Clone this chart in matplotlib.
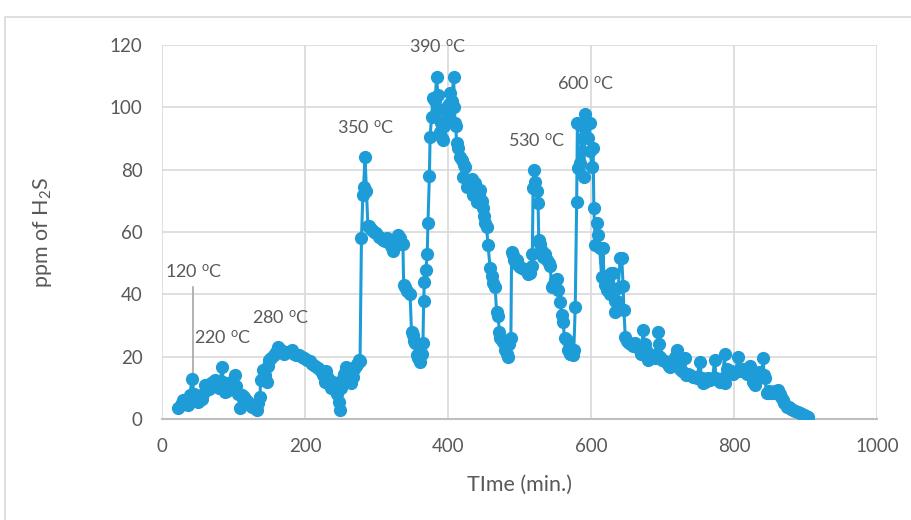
import matplotlib
matplotlib.use("Agg")
import matplotlib.pyplot as plt
from matplotlib.patches import Rectangle

plt.rcParams["font.family"] = ["Lato", "DejaVu Sans"]
plt.rcParams["mathtext.fontset"] = "custom"
plt.rcParams["mathtext.rm"] = "Lato"
plt.rcParams["mathtext.it"] = "Lato:italic"

# time (min.) and ppm of H2S
time_min = [
    23, 26, 28, 30, 33, 36, 39, 42, 45, 48, 50, 53, 56, 58, 60, 63, 66, 68, 71, 74,
    77, 80, 84, 86, 88, 91, 94, 97, 100, 102, 104, 106, 109, 112, 115, 118, 121, 123,
    126, 130, 133, 135, 137, 138, 141, 144, 147, 148, 150, 153, 156, 159, 162, 166,
    170, 174, 178, 182, 185, 188, 192, 196, 199, 203, 207, 210, 214, 218, 222, 225,
    228, 230, 232, 235, 237, 239, 241, 243, 245, 247, 249, 251, 253, 255, 258, 261,
    263, 265, 267, 269, 271, 273, 275, 277,
    279, 281, 282, 284, 286, 288, 290, 292, 294, 297, 300, 303, 306, 309, 312, 315,
    318, 321, 323, 326, 328, 330, 333, 335, 337, 338, 340, 343, 347, 349, 351, 353,
    354, 356, 358, 361, 363, 365, 366, 367, 369, 371, 372, 374, 375, 377, 379, 382,
    384, 386, 387, 389, 390, 392, 393, 395, 396, 398, 400, 402, 403, 405, 408, 409,
    410, 411, 412, 414, 417, 419, 421, 423, 424, 426, 428, 431, 433, 435, 438, 440,
    443, 445, 447, 449, 451, 452, 454, 456, 459, 461, 463, 466, 468, 470, 472, 473,
    475, 477, 480, 482, 484, 486, 488, 489, 491, 493, 496, 498, 501, 504, 507, 510,
    512, 515, 517, 518, 519, 521, 522, 524, 526, 527, 529, 531, 533, 536, 538, 541,
    543, 545, 547, 550, 552, 554, 557, 559, 561, 563, 566, 568, 570, 572, 575, 576,
    578, 580, 581, 582, 585, 587, 589, 590, 592, 594, 596, 598, 599, 601, 603, 604,
    606, 608, 610, 612, 615, 617, 618, 620, 622, 624, 626, 628, 631, 633, 634, 636,
    638, 641, 643, 645, 646, 648, 650,
    653, 656, 659, 662, 665, 668, 670, 673, 675, 677, 680, 683, 686, 689, 692, 694,
    695, 697, 700, 703, 706, 709, 710, 713, 716, 718, 720, 722, 725, 728, 731, 733,
    736, 739, 742, 745, 748, 752, 755, 757, 760, 763, 766, 770, 773, 775, 778, 781,
    784, 787, 788, 790, 793, 796, 799, 802, 806, 809, 812, 815, 818, 822, 825, 827,
    829, 831, 835, 838, 841, 842, 843, 846, 849, 852, 855, 858, 862, 864, 866, 868,
    870, 874, 877, 880, 883, 886, 889, 892, 895, 898, 901, 904,
]
h2s_ppm = [
    3.5, 4.5, 5, 6, 5, 4.5, 7.7, 12.8, 8, 6.5, 5.5, 6, 6.5, 8, 11, 10, 9.5, 11.5, 12, 12.5,
    11, 10, 16.7, 12, 8.7, 9, 10.5, 12, 11, 14, 10.5, 8, 3.5, 7.7, 7, 6, 5.5, 4.5,
    4, 3.5, 3, 5, 7, 12.5, 15.7, 14, 12, 17, 19, 19.5, 20.5, 21.5, 23, 22,
    21, 21.5, 21.5, 22, 21, 20.5, 20.5, 20, 19.5, 19, 18.5, 17.5, 17, 16.5, 15.5, 14,
    12, 15.5, 13, 11.5, 10, 12, 11, 10, 8, 5.6, 3, 10, 13, 14.5, 16.7, 15.5,
    14, 11.5, 13.5, 16, 17, 17.5, 19, 18.5,
    58, 72, 74.5, 84, 73, 62, 62, 61, 60.5, 60, 59.6, 58.5, 58, 57.4, 57, 58,
    57, 55.5, 54, 56, 57, 59, 58, 56, 56, 43, 42.5, 41, 40, 28, 27, 25,
    24.4, 20.5, 19.5, 18.3, 21, 24.4, 38, 44, 47.8, 53, 63, 78, 90.5, 97, 103, 102,
    109.7, 104, 99, 92, 95, 90, 89.5, 94, 99, 100, 97, 101, 104.6, 102, 109.7, 100,
    95, 94, 88.5, 87, 84, 83, 77.6, 81.5, 81, 74.5, 76, 75, 77, 72, 75.7, 69.6,
    72, 73.5, 70, 67.7, 65, 63, 61.6, 55.8, 48.4, 46, 43.6, 42.3, 34.3, 33, 28, 26,
    25.5, 24.7, 22, 21, 20, 24, 26, 53.6, 52.5, 51, 51, 49.5, 48.8, 48.5, 48, 47.5,
    46.5, 46.8, 49, 53, 74, 80, 76, 73, 69.3, 57.4, 56, 54, 52, 53, 51, 50,
    49, 42.3, 43, 44.5, 45, 41.4, 37.6, 33.4, 31, 26, 25.3, 22, 21, 20.8, 20.5, 22,
    36, 69.6, 95, 80.5, 82, 94, 90, 77.6, 98, 95, 90, 95, 86, 81, 87, 67.7,
    55.8, 63, 59, 55, 45.5, 54.9, 46, 43, 41.4, 44, 40, 47, 46.8, 38, 34.3, 38,
    42, 51.7, 51.7, 42.6, 35, 26.3, 25,
    24.5, 24, 23.5, 24.4, 23, 22, 21, 28.5, 24, 22, 19, 20, 20.5, 19.5, 21, 28,
    24, 20, 19, 18.5, 18, 17, 16.7, 17.5, 19, 20, 22, 17, 16, 15.5, 19.5, 14,
    14.5, 14, 13.5, 13.5, 13, 18.3, 13, 11.5, 12, 13, 12.5, 13, 19, 13, 12.5, 12,
    13, 21, 11.5, 16, 15, 15.5, 14.5, 15, 20, 15.5, 16, 15, 14.5, 17, 14, 12,
    11, 14, 15, 14, 19.5, 14, 13, 8.3, 9, 8.5, 8.5, 9, 9.3, 8, 7, 6,
    5, 4, 3.7, 3.3, 3, 2.7, 2.4, 2, 1.7, 1.4, 1.0, 0.7,
]

# temperature labels: text, time, ppm
temp_labels = ["120", "220", "280", "350", "390", "530", "600"]
temp_t = [4, 45, 126, 245, 345, 484, 552]
temp_v = [47.2, 26, 32.4, 93.4, 119.3, 89.2, 107.5]

blue = "#1E9CD7"
grey_txt = "#595959"

fig = plt.figure(figsize=(9.12, 5.2), dpi=100)
ax = fig.add_axes([0.1776, 0.1942, 0.784, 0.7193])

fig.patches.append(Rectangle((5 / 912, -0.02), 1.0, 1 - 17 / 520 + 0.02,
                             transform=fig.transFigure, fill=False,
                             edgecolor="#D9D9D9", linewidth=1.2))

ax.plot(time_min, h2s_ppm, color=blue, linewidth=2.2, marker="o",
        markersize=8.5, markeredgecolor=blue, zorder=3)

for lab, t, v in zip(temp_labels, temp_t, temp_v):
    ax.text(t, v, lab + r" $^{\mathrm{o}}$C", fontsize=13, color=grey_txt,
            ha="left", va="center", zorder=4)

# leader line from 120 oC label
ax.plot([43.4, 43.4], [42.3, 13.5], color="#A6A6A6", linewidth=1.2, zorder=2)

ax.set_xlim(0, 1000)
ax.set_ylim(0, 120)
ax.set_xticks(range(0, 1001, 200))
ax.set_yticks(range(0, 121, 20))
ax.grid(True, color="#D9D9D9", linewidth=1.2)
ax.set_axisbelow(True)
for side in ["left", "right", "top"]:
    ax.spines[side].set_visible(False)
ax.spines["bottom"].set_color("#BFBFBF")
ax.spines["bottom"].set_linewidth(1.5)
ax.tick_params(length=0, labelsize=13.5, colors=grey_txt, pad=14)

ax.set_xlabel("TIme (min.)", fontsize=15.5, color=grey_txt, labelpad=14)
ax.set_ylabel(r"ppm of H$_{\mathrm{2}}$S", fontsize=15.5, color=grey_txt, labelpad=40)

plt.savefig("out.png", dpi=100)
